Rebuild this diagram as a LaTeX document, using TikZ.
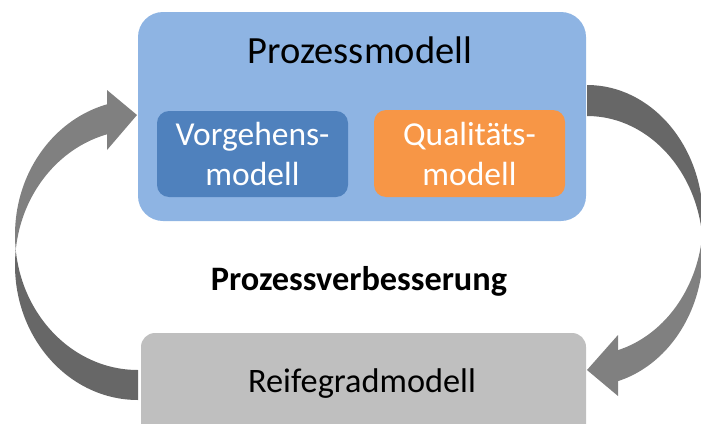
\documentclass[tikz,border=0pt]{standalone}
\usepackage{fontspec}
\setmainfont{Carlito}
\definecolor{pmblue}{HTML}{8EB4E3}
\definecolor{vmblue}{HTML}{4F81BD}
\definecolor{qmorange}{HTML}{F79646}
\definecolor{rmgray}{HTML}{BFBFBF}
\definecolor{arrowlight}{HTML}{808080}
\definecolor{arrowdark}{HTML}{676767}
\tikzset{
  box/.style={rectangle, inner sep=0pt, draw=none},
  bigfont/.style={font=\fontsize{38.5}{40}\selectfont},
  midfont/.style={font=\fontsize{33.5}{40}\selectfont},
  lowfont/.style={font=\fontsize{34.3}{40}\selectfont},
  boldfont/.style={font=\bfseries\fontsize{34.3}{40}\selectfont},
}
\begin{document}
\begin{tikzpicture}[x=1pt, y=-1pt]
  \useasboundingbox (0,0) rectangle (701,423);
  \clip (0,0) rectangle (701,423);

  % process model with its two parts
  \node[box, fill=pmblue, rounded corners=25pt, minimum width=448pt, minimum height=209pt] (pm) at (362,116.5) {};
  \node[bigfont, anchor=base] (pmt) at (360,63) {Prozessmodell};
  \node[box, fill=vmblue, rounded corners=12pt, minimum width=191pt, minimum height=86pt] (vm) at (252.5,154) {};
  \node[midfont, text=white, align=center, anchor=base] (vmt) at (vm.center |- 0,185) {Vorgehens-\\modell};
  \node[box, fill=qmorange, rounded corners=12pt, minimum width=191pt, minimum height=87pt] (qm) at (469.5,153.5) {};
  \node[midfont, text=white, align=center, anchor=base] (qmt) at (qm.center |- 0,185) {Qualitäts-\\modell};

  % maturity model, running past the lower edge
  \node[box, fill=rmgray, rounded corners=14pt, minimum width=445pt, minimum height=110pt] (rm) at (363.5,388) {};
  \node[lowfont, anchor=base] (rmt) at (362,392) {Reifegradmodell};

  % centre caption
  \node[boldfont, anchor=base] (pv) at (359,290) {Prozessverbesserung};

  % left curved arrow: from the maturity model up to the process model
  \coordinate (la) at (138,235);
  \coordinate (lb) at (138,265);
  \begin{scope}
    \clip (0,0) rectangle (107,250);
    \fill[arrowlight, even odd rule] (la) ellipse [x radius=123, y radius=135]
                                     (lb) ellipse [x radius=123, y radius=135];
  \end{scope}
  \begin{scope}
    \clip (0,250) rectangle (138,423);
    \fill[arrowdark, even odd rule] (la) ellipse [x radius=123, y radius=135]
                                    (lb) ellipse [x radius=123, y radius=135];
  \end{scope}
  \coordinate (lh1) at (107,90);
  \coordinate (lhtip) at (137,115);
  \coordinate (lh2) at (107,150);
  \fill[arrowlight] (lh1) -- (lhtip) -- (lh2) -- cycle;

  % right curved arrow: from the process model down to the maturity model
  \coordinate (ra) at (587,220);
  \coordinate (rb) at (587,251);
  \begin{scope}
    \clip (587,0) rectangle (710,235.5);
    \fill[arrowdark, even odd rule] (ra) ellipse [x radius=116, y radius=135]
                                    (rb) ellipse [x radius=116, y radius=135];
  \end{scope}
  \begin{scope}
    \clip (618,235.5) rectangle (710,423);
    \fill[arrowlight, even odd rule] (ra) ellipse [x radius=116, y radius=135]
                                     (rb) ellipse [x radius=116, y radius=135];
  \end{scope}
  \coordinate (rh1) at (618,335);
  \coordinate (rhtip) at (587,370);
  \coordinate (rh2) at (618,396);
  \fill[arrowlight] (rh1) -- (rhtip) -- (rh2) -- cycle;
\end{tikzpicture}
\end{document}
